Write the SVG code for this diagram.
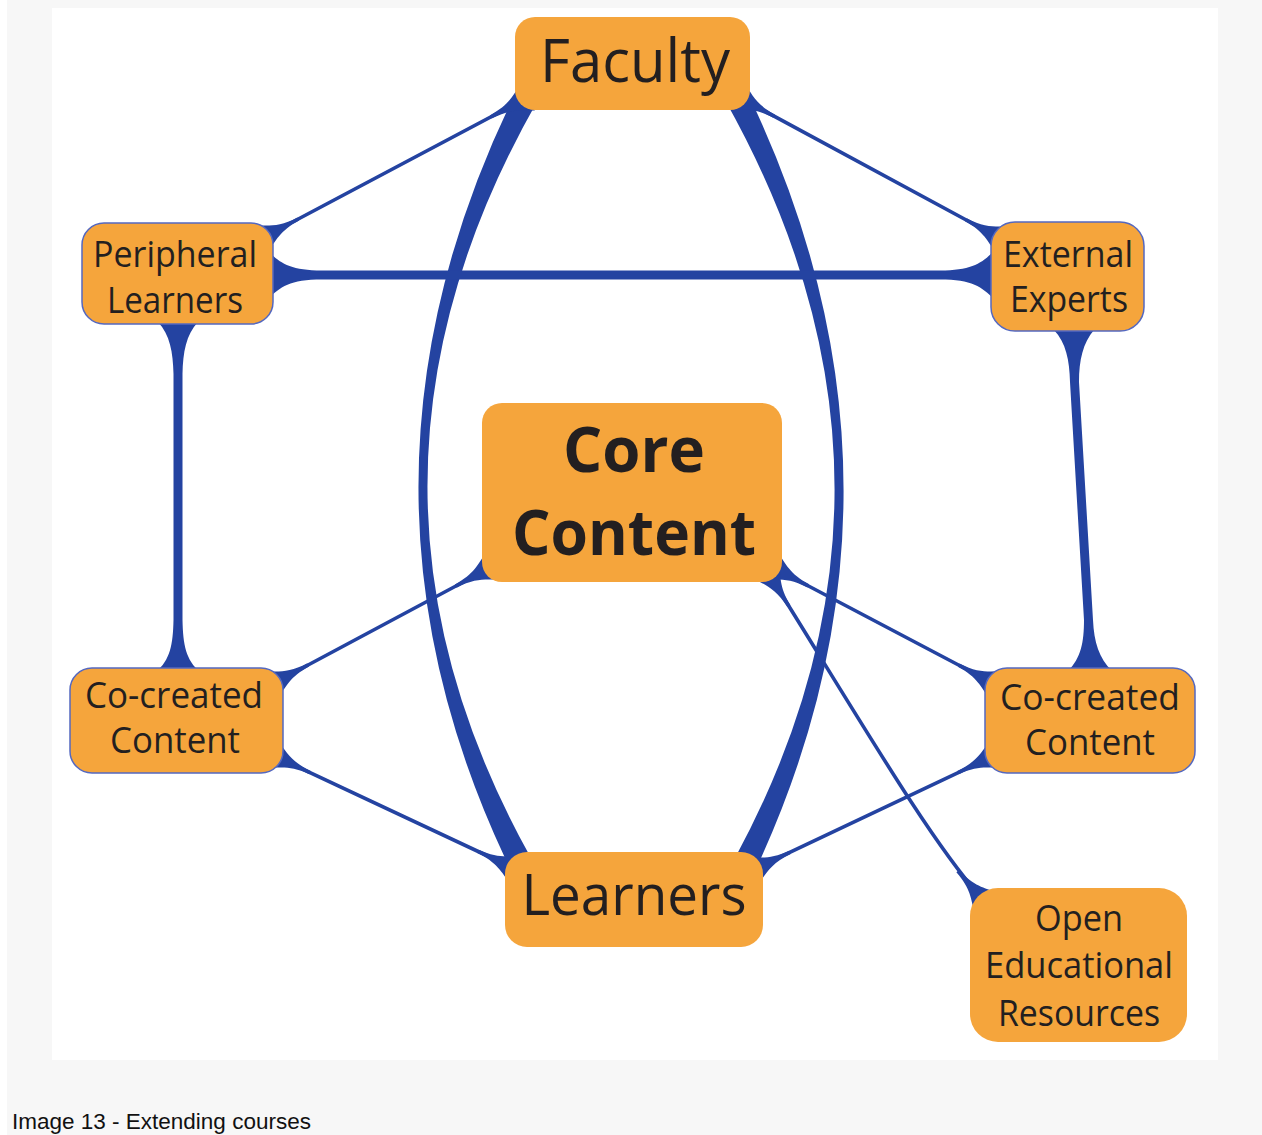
<svg xmlns="http://www.w3.org/2000/svg" xmlns:xlink="http://www.w3.org/1999/xlink" width="1262" height="1135" viewBox="0 0 1262 1135">
<style>
.node{fill:#F5A53C}
.bord{stroke:#5468c0;stroke-width:1.5}
.t{font-family:"Open Sans","Noto Sans","Liberation Sans",sans-serif;fill:#231f20;text-anchor:middle}
.thin{stroke:#2443a1;stroke-width:3.6;fill:none;stroke-linecap:round}
.fill{fill:#2443a1}
</style>
<defs>
<path id="tf" class="fill" d="M-10,-15 C2,-9 10,-1.8 32,-1.8 L32,1.8 C10,1.8 2,9 -10,15 Z"/>
</defs>
<rect x="7" y="0" width="1255" height="1135" fill="#f7f7f7"/>
<rect x="52" y="8" width="1166" height="1052" fill="#ffffff"/>

<g id="connectors">
  <path class="fill" d="M512,100 Q328.5,481 505,858 L531,858 Q320.5,481 538,100 Z"/>
  <path class="fill" d="M751,100 Q931,481 761,858 L735,858 Q939,481 725,100 Z"/>
  <path class="fill" d="M268,251 C280,263 290,270.5 322,270.5 L940,270.5 C972,270.5 982,263 994,251 L994,299 C982,287 972,279.5 940,279.5 L322,279.5 C290,279.5 280,287 268,299 Z"/>
  <path class="fill" d="M158,322 C170,335 173,352 173.5,374 L173.5,620 C173,645 170,660 156,672 L200,672 C186,660 183,645 182.5,620 L182.5,374 C183,352 186,335 198,322 Z"/>
  <path class="fill" d="M1054,330 C1066,343 1069.5,360 1070,382 L1084,620 C1084,642 1081,658 1068,671 L1112,671 C1099,658 1094,642 1093,620 L1079,382 C1079,360 1083,343 1094,330 Z"/>
  <line class="thin" x1="519" y1="102" x2="270" y2="234"/>
  <use xlink:href="#tf" transform="translate(519,102) rotate(152.1)"/>
  <use xlink:href="#tf" transform="translate(270,234) rotate(-27.9)"/>
  <line class="thin" x1="746" y1="101" x2="994" y2="235"/>
  <use xlink:href="#tf" transform="translate(746,101) rotate(28.4)"/>
  <use xlink:href="#tf" transform="translate(994,235) rotate(208.4)"/>
  <line class="thin" x1="484" y1="571" x2="280" y2="680"/>
  <use xlink:href="#tf" transform="translate(484,571) rotate(151.9)"/>
  <use xlink:href="#tf" transform="translate(280,680) rotate(-28.1)"/>
  <line class="thin" x1="281" y1="759" x2="507" y2="865"/>
  <use xlink:href="#tf" transform="translate(281,759) rotate(25.1)"/>
  <use xlink:href="#tf" transform="translate(507,865) rotate(205.1)"/>
  <line class="thin" x1="780" y1="571" x2="987" y2="680"/>
  <use xlink:href="#tf" transform="translate(780,571) rotate(27.8)"/>
  <use xlink:href="#tf" transform="translate(987,680) rotate(207.8)"/>
  <line class="thin" x1="987" y1="759" x2="761" y2="866"/>
  <use xlink:href="#tf" transform="translate(987,759) rotate(154.7)"/>
  <use xlink:href="#tf" transform="translate(761,866) rotate(-25.3)"/>
  <path class="thin" d="M772,579 C860,720 930,840 979,895"/>
  <use xlink:href="#tf" transform="translate(772,579) rotate(58)"/>
  <use xlink:href="#tf" transform="translate(979,895) rotate(-131.7)"/>
</g>

<g id="faculty">
  <rect class="node" x="515" y="17" width="235" height="93" rx="20"/>
  <text class="t" x="635" y="82" font-size="60" textLength="190" lengthAdjust="spacingAndGlyphs">Faculty</text>
</g>
<g id="peripheral-learners">
  <rect class="node bord" x="82" y="223" width="191" height="101" rx="22"/>
  <text class="t" x="175" y="267" font-size="36" textLength="164" lengthAdjust="spacingAndGlyphs">Peripheral</text>
  <text class="t" x="175" y="313" font-size="36" textLength="136" lengthAdjust="spacingAndGlyphs">Learners</text>
</g>
<g id="external-experts">
  <rect class="node bord" x="991" y="222" width="153" height="109" rx="24"/>
  <text class="t" x="1068" y="267" font-size="36" textLength="130" lengthAdjust="spacingAndGlyphs">External</text>
  <text class="t" x="1069" y="312" font-size="36" textLength="118" lengthAdjust="spacingAndGlyphs">Experts</text>
</g>
<g id="core-content">
  <rect class="node" x="482" y="403" width="300" height="179" rx="20"/>
  <text class="t" x="634" y="472" font-size="63" font-weight="bold" textLength="142" lengthAdjust="spacingAndGlyphs">Core</text>
  <text class="t" x="634" y="555" font-size="63" font-weight="bold" textLength="244" lengthAdjust="spacingAndGlyphs">Content</text>
</g>
<g id="co-created-left">
  <rect class="node bord" x="70" y="668" width="213" height="105" rx="22"/>
  <text class="t" x="174" y="708" font-size="36" textLength="178" lengthAdjust="spacingAndGlyphs">Co-created</text>
  <text class="t" x="175" y="753" font-size="36" textLength="130" lengthAdjust="spacingAndGlyphs">Content</text>
</g>
<g id="co-created-right">
  <rect class="node bord" x="985" y="668" width="210" height="105" rx="22"/>
  <text class="t" x="1090" y="710" font-size="36" textLength="180" lengthAdjust="spacingAndGlyphs">Co-created</text>
  <text class="t" x="1090" y="755" font-size="36" textLength="130" lengthAdjust="spacingAndGlyphs">Content</text>
</g>
<g id="learners">
  <rect class="node" x="505" y="852" width="258" height="95" rx="22"/>
  <text class="t" x="634" y="915" font-size="56" textLength="225" lengthAdjust="spacingAndGlyphs">Learners</text>
</g>
<g id="oer">
  <rect class="node" x="970" y="888" width="217" height="154" rx="28"/>
  <text class="t" x="1079" y="931" font-size="36" textLength="88" lengthAdjust="spacingAndGlyphs">Open</text>
  <text class="t" x="1079" y="978" font-size="36" textLength="188" lengthAdjust="spacingAndGlyphs">Educational</text>
  <text class="t" x="1079" y="1026" font-size="36" textLength="162" lengthAdjust="spacingAndGlyphs">Resources</text>
</g>
<text x="12" y="1129" font-family="Liberation Sans, Arial, sans-serif" font-size="22.5" fill="#111">Image 13 - Extending courses</text>
</svg>
